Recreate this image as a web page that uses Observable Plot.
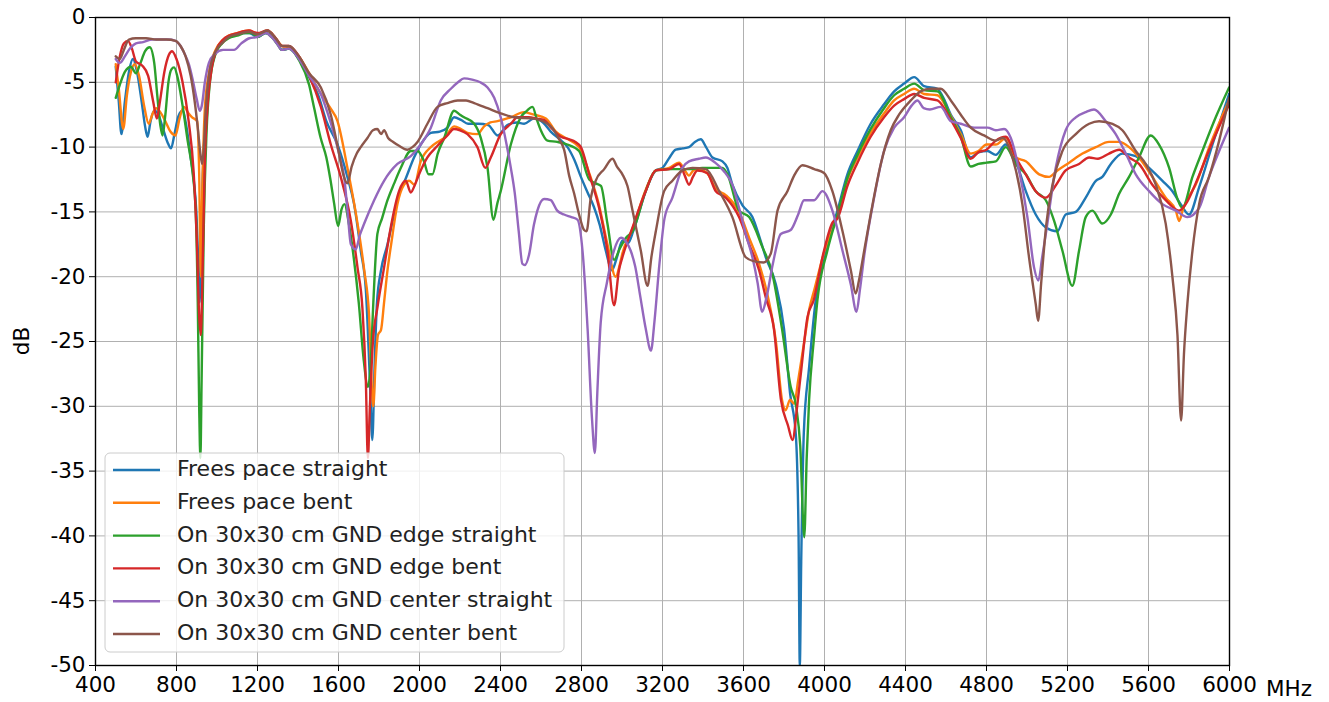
<!DOCTYPE html>
<html>
<head>
<meta charset="utf-8">
<script src="https://cdn.jsdelivr.net/npm/d3@7"></script>
<script src="https://cdn.jsdelivr.net/npm/@observablehq/plot@0.6"></script>
<style>
  html, body { margin: 0; padding: 0; background: #fff; }
  #chart { width: 1329px; height: 702px; }
</style>
</head>
<body>
<div id="chart"></div>
<script>
// ---- series names & colours ----
const seriesNames = [
  "Frees pace straight",
  "Frees pace bent",
  "On 30x30 cm GND edge straight",
  "On 30x30 cm GND edge bent",
  "On 30x30 cm GND center straight",
  "On 30x30 cm GND center bent"
];
const seriesColors = ["#1f77b4", "#ff7f0e", "#2ca02c", "#d62728", "#9467bd", "#8c564b"];

// ---- tick values ----
const xTicks = [400, 800, 1200, 1600, 2000, 2400, 2800, 3200, 3600, 4000, 4400, 4800, 5200, 5600, 6000];
const yTicks = [-50, -45, -40, -35, -30, -25, -20, -15, -10, -5, 0];

// ---- series values: [MHz, dB] ----
const freeSpaceStraight = [[500,-3.8],[515,-6.5],[528,-9.0],[545,-6.5],[565,-4.2],[585,-3.2],[605,-4.2],[628,-6.5],[645,-8.4],[657,-9.2],[672,-8.0],[690,-7.2],[708,-7.4],[730,-8.4],[755,-9.6],[773,-10.1],[790,-9.0],[810,-7.6],[830,-7.2],[850,-8.5],[870,-10.8],[885,-12.5],[898,-15],[908,-19],[914,-22],[920,-18],[930,-12],[945,-7.5],[965,-4.5],[993,-2.7],[1025,-1.9],[1058,-1.5],[1100,-1.3],[1130,-1.2],[1160,-1.2],[1200,-1.5],[1240,-1.2],[1270,-1.4],[1300,-2.0],[1320,-2.5],[1355,-2.4],[1405,-3.2],[1455,-4.6],[1500,-6.0],[1540,-8.0],[1595,-9.8],[1644,-12.3],[1677,-14.4],[1710,-18],[1735,-21],[1755,-28],[1767,-32.6],[1778,-27],[1790,-22],[1810,-19.5],[1842,-17.5],[1870,-15.5],[1900,-13.6],[1930,-12.5],[1973,-10.8],[2006,-9.8],[2056,-8.9],[2100,-8.8],[2138,-8.5],[2171,-7.7],[2205,-7.9],[2240,-8.2],[2290,-8.2],[2340,-8.3],[2385,-9.1],[2434,-8.3],[2480,-8.1],[2517,-8.2],[2565,-7.8],[2610,-8.1],[2648,-8.8],[2700,-9.5],[2731,-10.0],[2765,-11],[2797,-12.3],[2830,-13.5],[2861,-14.6],[2890,-16],[2920,-18],[2950,-19.5],[2975,-18.5],[3002,-17.2],[3030,-17.4],[3055,-16.5],[3085,-15],[3117,-13.4],[3167,-11.8],[3200,-11.6],[3235,-10.8],[3265,-10.2],[3300,-10.1],[3331,-10.0],[3360,-9.6],[3389,-9.4],[3415,-10.0],[3447,-10.8],[3496,-11.1],[3520,-11.6],[3545,-12.9],[3595,-14.5],[3644,-15.4],[3680,-17],[3710,-18.5],[3760,-20.6],[3800,-24],[3830,-29],[3858,-32.1],[3872,-40],[3878,-50],[3885,-42],[3898,-32],[3924,-27],[3957,-21.8],[3985,-19.5],[4014,-17.5],[4064,-14.9],[4113,-12.1],[4163,-10.3],[4228,-8.2],[4294,-6.7],[4344,-5.7],[4393,-5.1],[4443,-4.6],[4492,-5.3],[4558,-5.5],[4590,-6.3],[4624,-7.5],[4673,-8.7],[4722,-10.8],[4760,-10.4],[4805,-10.3],[4846,-10.6],[4895,-9.8],[4945,-11.1],[4994,-13.4],[5043,-15.2],[5093,-16.2],[5150,-16.5],[5191,-15.2],[5241,-15.0],[5290,-13.9],[5340,-12.6],[5372,-12.3],[5414,-11.3],[5471,-10.5],[5537,-10.7],[5603,-11.6],[5669,-12.6],[5718,-13.4],[5759,-14.4],[5800,-15.2],[5850,-13.1],[5916,-9.8],[5998,-5.9]];

const freeSpaceBent = [[500,-3.6],[515,-5.5],[537,-8.6],[555,-6.0],[575,-4.2],[594,-3.6],[615,-4.5],[640,-6.8],[663,-8.2],[680,-7.5],[700,-7.0],[720,-7.3],[745,-8.0],[770,-8.8],[795,-9.1],[815,-7.8],[836,-6.9],[860,-7.4],[877,-7.7],[902,-8.0],[912,-12],[920,-20],[928,-13],[940,-7],[960,-4.3],[993,-2.5],[1025,-1.8],[1058,-1.4],[1100,-1.2],[1158,-1.0],[1200,-1.3],[1249,-1.0],[1290,-1.6],[1322,-2.2],[1355,-2.3],[1405,-3.0],[1455,-4.3],[1513,-5.9],[1560,-7.0],[1595,-8.0],[1644,-11.6],[1694,-15.9],[1727,-19.5],[1751,-23],[1763,-28],[1772,-30],[1782,-27],[1795,-24.5],[1810,-24.1],[1825,-22],[1842,-19.5],[1860,-17.5],[1891,-14.4],[1924,-12.9],[1949,-12.6],[1975,-12.9],[2006,-11.1],[2056,-10.0],[2090,-9.6],[2122,-9.3],[2171,-8.4],[2205,-8.6],[2237,-8.9],[2286,-9.0],[2319,-8.4],[2350,-8.1],[2385,-8.0],[2451,-7.7],[2516,-7.3],[2566,-7.5],[2624,-7.8],[2673,-8.8],[2722,-9.3],[2788,-10.0],[2838,-12.0],[2887,-14.5],[2928,-17.5],[2969,-20.0],[2990,-19.0],[3002,-18.2],[3052,-16.3],[3117,-13.3],[3167,-11.8],[3233,-11.6],[3282,-11.2],[3310,-11.8],[3331,-12.2],[3352,-11.8],[3372,-11.7],[3420,-12.0],[3463,-13.2],[3512,-13.7],[3578,-15.0],[3628,-17.0],[3677,-19.0],[3720,-21.5],[3760,-25.0],[3790,-29.5],[3808,-30.3],[3830,-29.5],[3850,-29.8],[3870,-28.0],[3900,-25.0],[3925,-22.5],[3950,-21.0],[4000,-18.0],[4064,-15.3],[4113,-12.5],[4163,-10.8],[4228,-8.9],[4294,-7.4],[4344,-6.4],[4393,-5.9],[4443,-5.5],[4492,-5.9],[4558,-6.0],[4624,-7.6],[4673,-9.0],[4722,-10.5],[4760,-10.3],[4800,-9.8],[4846,-9.8],[4895,-9.3],[4945,-10.8],[4994,-11.1],[5060,-12.1],[5109,-12.3],[5150,-11.8],[5208,-11.2],[5274,-10.5],[5340,-10.0],[5405,-9.6],[5455,-9.6],[5504,-10.0],[5553,-10.8],[5619,-12.3],[5685,-13.9],[5735,-14.9],[5751,-15.7],[5770,-14.8],[5800,-13.8],[5833,-12.9],[5900,-10.0],[5998,-6.4]];

const gndEdgeStraight = [[500,-6.2],[520,-5.2],[545,-4.2],[575,-3.8],[600,-4.3],[620,-3.6],[645,-2.6],[668,-2.3],[690,-3.5],[705,-6.0],[720,-8.3],[731,-9.1],[745,-7.5],[760,-5.0],[775,-4.0],[788,-3.85],[805,-4.6],[830,-6.8],[855,-9.5],[879,-11.9],[895,-15],[905,-22],[912,-30],[918,-34],[924,-28],[935,-16],[948,-9],[965,-5],[993,-2.8],[1025,-2.0],[1058,-1.6],[1100,-1.4],[1140,-1.2],[1170,-1.2],[1200,-1.5],[1240,-1.2],[1275,-1.6],[1300,-2.1],[1320,-2.5],[1355,-2.4],[1405,-3.3],[1455,-5.2],[1480,-7],[1512,-9.3],[1540,-10.8],[1560,-12.5],[1578,-14.3],[1598,-16.1],[1615,-14.8],[1630,-14.4],[1650,-15.8],[1675,-18.5],[1700,-22],[1725,-26.5],[1745,-28.5],[1758,-27],[1772,-22],[1792,-16.7],[1815,-15.5],[1842,-14.1],[1875,-12.8],[1908,-11.6],[1957,-10.3],[1990,-10.3],[2020,-11],[2045,-12.1],[2064,-12.1],[2090,-10.5],[2122,-9.3],[2171,-7.2],[2200,-7.5],[2220,-7.7],[2270,-8.2],[2303,-9.3],[2336,-11.6],[2365,-15.6],[2385,-14.3],[2401,-13.4],[2451,-9.8],[2500,-7.7],[2530,-7.2],[2558,-6.9],[2580,-7.9],[2599,-8.7],[2632,-9.5],[2680,-9.6],[2730,-9.8],[2788,-10.3],[2838,-12.5],[2870,-12.8],[2896,-13.0],[2928,-15.9],[2961,-18.7],[2990,-17.8],[3020,-17.0],[3052,-16.5],[3117,-13.4],[3167,-11.8],[3250,-11.7],[3331,-11.7],[3397,-11.6],[3496,-11.6],[3521,-12.1],[3578,-14.9],[3628,-15.4],[3693,-17.7],[3743,-19.8],[3790,-24],[3833,-28.5],[3860,-30],[3880,-33],[3900,-40.1],[3912,-34],[3924,-29.5],[3947,-24.9],[3965,-21.8],[4014,-18],[4064,-15.2],[4113,-12.4],[4163,-10.6],[4228,-8.6],[4294,-7.0],[4344,-6.0],[4393,-5.5],[4443,-5.1],[4492,-5.6],[4558,-5.7],[4624,-7.7],[4673,-9.2],[4722,-11.5],[4760,-11.3],[4800,-11.2],[4846,-11.1],[4895,-10.0],[4945,-11.3],[4994,-12.1],[5043,-13.4],[5093,-14.1],[5134,-15.7],[5175,-18.0],[5224,-20.7],[5257,-18.0],[5290,-15.4],[5323,-14.9],[5372,-15.9],[5414,-15.2],[5455,-13.6],[5504,-12.3],[5553,-10.8],[5611,-9.1],[5652,-9.8],[5702,-11.6],[5743,-14.0],[5767,-14.7],[5817,-12.3],[5866,-10.3],[5932,-7.7],[5998,-5.4]];

const gndEdgeBent = [[500,-5.0],[520,-3.0],[540,-2.0],[560,-1.8],[580,-2.4],[600,-3.4],[630,-3.7],[660,-4.5],[685,-6.5],[703,-7.8],[718,-6.5],[740,-4.2],[762,-2.9],[778,-2.6],[800,-3.2],[830,-5.0],[860,-8.0],[885,-12],[900,-17],[912,-23],[920,-24.5],[928,-20],[940,-11],[955,-6.5],[975,-3.8],[1000,-2.4],[1030,-1.7],[1060,-1.4],[1100,-1.2],[1158,-1.0],[1200,-1.2],[1249,-1.0],[1290,-1.6],[1322,-2.2],[1355,-2.2],[1405,-3.0],[1455,-4.5],[1513,-6.9],[1562,-9.8],[1611,-12.3],[1661,-15.7],[1694,-19.3],[1718,-22.4],[1735,-28],[1745,-34],[1755,-30],[1770,-25],[1792,-22.4],[1825,-19.3],[1858,-16.2],[1899,-13.4],[1932,-12.6],[1957,-13.5],[1975,-13.0],[1998,-12.1],[2039,-10.8],[2089,-9.9],[2138,-9.1],[2170,-8.6],[2200,-8.7],[2237,-9.0],[2286,-10.0],[2325,-11.6],[2352,-10.8],[2401,-9.0],[2451,-8.2],[2484,-7.7],[2540,-7.7],[2580,-7.8],[2614,-7.9],[2650,-8.5],[2698,-9.2],[2740,-9.4],[2770,-9.6],[2797,-10.0],[2838,-12.1],[2887,-14.7],[2928,-18.0],[2961,-22.2],[2985,-19.5],[3002,-18.5],[3052,-16.2],[3117,-13.4],[3167,-11.8],[3233,-11.7],[3282,-11.3],[3310,-12.2],[3331,-12.9],[3350,-12.3],[3372,-11.8],[3420,-12.0],[3463,-13.4],[3512,-13.9],[3578,-15.4],[3628,-17.5],[3677,-19.5],[3710,-21.6],[3750,-24.0],[3785,-29.5],[3820,-31.5],[3842,-32.6],[3865,-30.0],[3883,-27.5],[3916,-23.1],[3947,-21.8],[3990,-18.5],[4040,-15.8],[4064,-15.5],[4113,-13.0],[4163,-11.2],[4228,-9.2],[4294,-7.7],[4344,-6.8],[4393,-6.3],[4443,-5.9],[4492,-6.2],[4558,-6.4],[4624,-7.9],[4673,-9.3],[4722,-10.9],[4760,-10.4],[4800,-10.2],[4846,-9.5],[4895,-9.2],[4945,-10.8],[4994,-12.1],[5043,-13.4],[5093,-13.9],[5140,-13.0],[5191,-11.8],[5257,-11.3],[5307,-10.8],[5350,-10.9],[5405,-10.5],[5455,-10.2],[5504,-10.8],[5553,-11.3],[5619,-12.9],[5685,-14.1],[5751,-14.9],[5784,-14.4],[5833,-12.8],[5900,-10.2],[5998,-6.7]];

const gndCenterStraight = [[500,-3.2],[520,-3.5],[545,-3.0],[570,-2.4],[600,-2.0],[635,-1.9],[680,-1.7],[720,-1.7],[760,-1.7],[795,-1.8],[820,-2.2],[840,-2.8],[861,-3.6],[880,-4.8],[900,-6.3],[915,-7.2],[925,-6.8],[940,-5.0],[960,-3.5],[990,-2.8],[1030,-2.5],[1084,-2.5],[1120,-2.0],[1160,-1.6],[1200,-1.5],[1240,-1.2],[1275,-1.6],[1300,-2.1],[1320,-2.5],[1355,-2.4],[1405,-3.2],[1455,-4.5],[1513,-5.9],[1545,-7.3],[1578,-9.0],[1610,-11],[1628,-12.3],[1645,-15],[1661,-17.5],[1685,-17.9],[1705,-16.8],[1727,-15.9],[1776,-14.1],[1825,-12.6],[1891,-11.3],[1957,-10.7],[2006,-9.8],[2056,-8.5],[2105,-6.4],[2155,-5.5],[2190,-5.0],[2220,-4.7],[2260,-4.8],[2300,-5.0],[2336,-5.4],[2369,-6.2],[2401,-7.7],[2430,-9.8],[2451,-11.6],[2470,-13.5],[2490,-16.5],[2508,-19.0],[2520,-19.1],[2541,-18.3],[2565,-16],[2582,-14.9],[2615,-14.0],[2648,-14.1],[2680,-14.9],[2714,-15.2],[2750,-15.4],[2780,-15.6],[2805,-18.0],[2830,-24],[2852,-31],[2866,-33.6],[2878,-29],[2895,-23.5],[2925,-20.5],[2960,-18],[2995,-17.0],[3020,-17.3],[3043,-18.0],[3065,-19.2],[3090,-21.5],[3117,-24.0],[3143,-25.7],[3160,-23.5],[3185,-19],[3210,-15.5],[3249,-13.9],[3298,-11.6],[3331,-11.1],[3380,-10.9],[3414,-10.8],[3460,-11.2],[3500,-11.8],[3545,-12.9],[3580,-14.8],[3611,-16.7],[3644,-18.5],[3670,-20.5],[3692,-22.7],[3715,-21.5],[3745,-19.0],[3784,-16.7],[3833,-16.4],[3870,-15.2],[3899,-14.1],[3949,-14.1],[3990,-13.4],[4039,-14.9],[4089,-18.0],[4130,-20.6],[4158,-22.7],[4175,-21],[4195,-18.5],[4245,-13.9],[4294,-10.3],[4344,-8.5],[4393,-7.7],[4430,-6.8],[4459,-6.4],[4490,-7.0],[4520,-7.1],[4574,-6.9],[4624,-8.0],[4673,-8.2],[4739,-8.5],[4805,-8.5],[4846,-8.7],[4887,-8.6],[4920,-9.3],[4961,-11.8],[5002,-15.4],[5035,-19.3],[5056,-20.3],[5075,-18.5],[5093,-16.7],[5142,-11.6],[5191,-8.7],[5241,-7.7],[5290,-7.3],[5331,-7.1],[5389,-8.0],[5438,-9.0],[5488,-10.5],[5537,-12.1],[5603,-13.4],[5669,-14.4],[5735,-14.9],[5792,-15.4],[5850,-14.7],[5899,-12.3],[5949,-10.3],[5998,-8.5]];

const gndCenterBent = [[500,-3.0],[520,-3.2],[540,-2.5],[565,-1.7],[600,-1.6],[650,-1.6],[700,-1.7],[750,-1.7],[795,-1.8],[820,-2.2],[845,-3.0],[870,-4.5],[890,-6.5],[905,-8.5],[918,-10.5],[927,-11.3],[935,-10],[945,-7],[960,-4.5],[990,-2.7],[1030,-1.9],[1058,-1.5],[1100,-1.3],[1158,-1.1],[1200,-1.3],[1249,-1.0],[1290,-1.6],[1322,-2.2],[1355,-2.2],[1405,-3.0],[1455,-4.3],[1513,-5.4],[1562,-7.5],[1600,-10.3],[1625,-12.2],[1644,-12.8],[1665,-11.5],[1690,-10.5],[1710,-10.0],[1743,-9.3],[1770,-8.7],[1792,-8.6],[1810,-9.0],[1825,-8.7],[1845,-9.3],[1870,-9.6],[1899,-9.9],[1940,-10.2],[1965,-10.0],[1990,-9.6],[2039,-8.2],[2089,-6.9],[2138,-6.6],[2188,-6.4],[2230,-6.4],[2270,-6.6],[2336,-7.0],[2401,-7.4],[2467,-7.7],[2565,-7.8],[2648,-8.4],[2690,-9.4],[2714,-10.2],[2739,-12.2],[2764,-13.6],[2788,-15.2],[2813,-16.4],[2825,-16.5],[2845,-14],[2870,-12.6],[2912,-11.7],[2953,-10.9],[2975,-11.5],[3002,-12.1],[3027,-13],[3052,-14.9],[3093,-18.0],[3126,-20.7],[3145,-18.5],[3167,-16.5],[3208,-13.4],[3249,-12.6],[3298,-11.8],[3348,-11.6],[3414,-11.7],[3480,-13.4],[3545,-15.4],[3611,-18.5],[3650,-18.8],[3700,-18.9],[3735,-18.2],[3768,-14.9],[3817,-13.4],[3850,-12.2],[3891,-11.4],[3949,-11.7],[3998,-12.0],[4039,-13.4],[4089,-16.5],[4130,-19.5],[4154,-21.3],[4170,-20.3],[4187,-18.8],[4228,-15.2],[4278,-11.3],[4327,-8.7],[4368,-7.5],[4426,-6.4],[4475,-5.7],[4525,-5.5],[4574,-5.5],[4624,-6.4],[4673,-7.5],[4722,-8.5],[4788,-9.1],[4846,-9.5],[4880,-9.3],[4928,-10.8],[4977,-14.4],[5010,-18.5],[5043,-22.1],[5055,-23.4],[5070,-20.5],[5095,-16],[5126,-12.9],[5175,-10.3],[5241,-9.0],[5307,-8.2],[5356,-8.0],[5422,-8.2],[5471,-8.7],[5537,-10.3],[5586,-11.3],[5636,-12.9],[5685,-15.9],[5718,-20.0],[5743,-24.5],[5761,-31.1],[5775,-26],[5792,-22.1],[5817,-18.0],[5850,-14.4],[5899,-12.3],[5949,-9.5],[5998,-6.2]];

const seriesValues = [freeSpaceStraight, freeSpaceBent, gndEdgeStraight, gndEdgeBent, gndCenterStraight, gndCenterBent];

// long table for Plot
const table = seriesValues.flatMap((vals, i) => vals.map(([f, db]) => ({series: seriesNames[i], f, db})));

const FONT = "DejaVu Sans, Verdana, sans-serif";
const FS = 21.5;
const LFS = 22;

const chart = Plot.plot({
  width: 1329,
  height: 702,
  marginLeft: 95,
  marginRight: 100,
  marginTop: 17,
  marginBottom: 37,
  style: {fontFamily: FONT, fontSize: FS + "px", color: "#000", background: "#fff"},
  x: {domain: [400, 6000], label: null},
  y: {domain: [-50, 0], label: null},
  color: {domain: seriesNames, range: seriesColors},
  marks: [
    Plot.gridX(xTicks, {stroke: "#b0b0b0", strokeOpacity: 1, strokeWidth: 1}),
    Plot.gridY(yTicks, {stroke: "#b0b0b0", strokeOpacity: 1, strokeWidth: 1}),
    Plot.line(table, {x: "f", y: "db", z: "series", stroke: "series", strokeWidth: 2.4, curve: "monotone-x", clip: true}),
    Plot.axisX(xTicks, {tickSize: 6, tickPadding: 5, tickFormat: d => String(d), label: null, fontSize: FS}),
    Plot.axisY(yTicks, {tickSize: 6, tickPadding: 4, tickFormat: d => String(d), label: null, fontSize: FS}),
    Plot.frame({stroke: "#000", strokeWidth: 1.4})
  ]
});

document.getElementById("chart").appendChild(chart);

// axis titles and legend, appended to the SVG
const svg = d3.select(chart);
svg.append("text")
  .attr("transform", "translate(23,341) rotate(-90)")
  .attr("text-anchor", "middle")
  .attr("dominant-baseline", "middle")
  .style("font-family", FONT).style("font-size", FS + "px")
  .attr("fill", "#000")
  .text("dB");
svg.append("text")
  .attr("x", 1266).attr("y", 690)
  .attr("text-anchor", "start")
  .style("text-anchor", "start")
  .attr("dominant-baseline", "middle")
  .style("font-family", FONT).style("font-size", FS + "px")
  .attr("fill", "#000")
  .text("MHz");

const leg = svg.append("g");
leg.append("rect")
  .attr("x", 105).attr("y", 453).attr("width", 459).attr("height", 199)
  .attr("rx", 5).attr("ry", 5)
  .attr("fill", "#fff").attr("fill-opacity", 0.8)
  .attr("stroke", "#cccccc").attr("stroke-width", 1);
seriesNames.forEach((name, i) => {
  const cy = 470 + i * 32.8;
  leg.append("line")
    .attr("x1", 113).attr("x2", 160).attr("y1", cy).attr("y2", cy)
    .attr("stroke", seriesColors[i]).attr("stroke-width", 2.4);
  leg.append("text")
    .attr("x", 177).attr("y", cy)
    .attr("text-anchor", "start")
    .style("text-anchor", "start")
    .attr("dominant-baseline", "middle")
    .style("font-family", FONT).style("font-size", LFS + "px")
    .attr("fill", "#222")
    .text(name);
});
</script>
</body>
</html>
